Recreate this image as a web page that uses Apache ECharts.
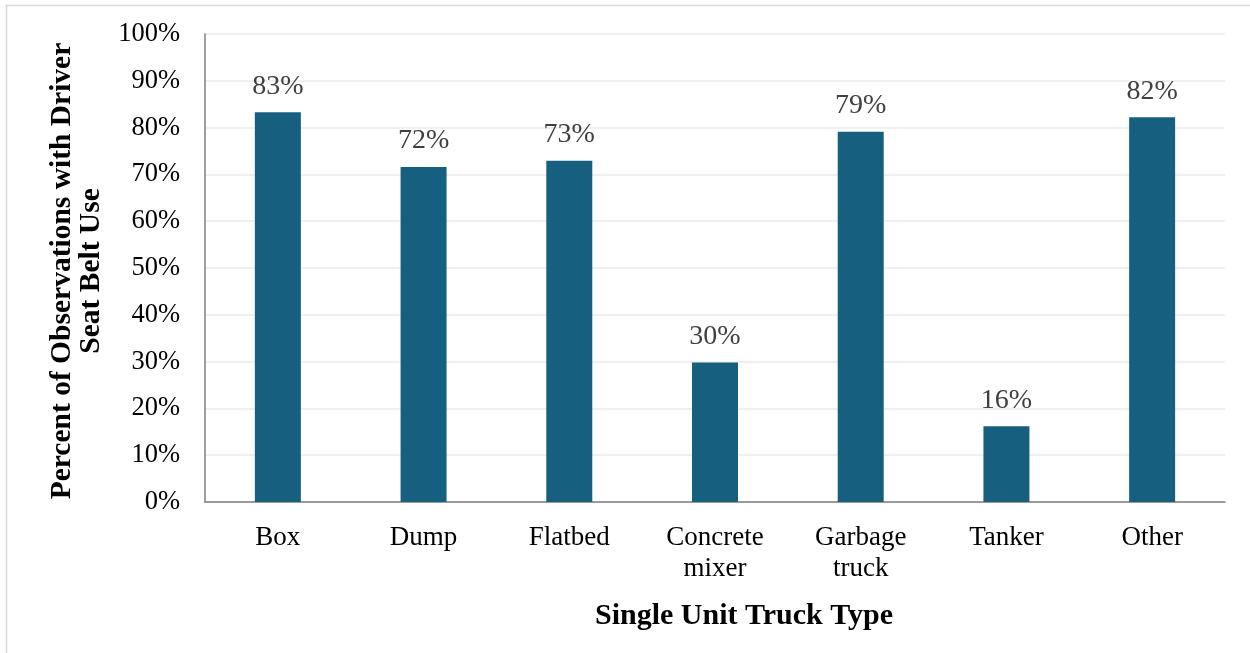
<!DOCTYPE html>
<html>
<head>
<meta charset="utf-8">
<script src="https://cdn.jsdelivr.net/npm/echarts@6/dist/echarts.min.js"></script>
<style>
  html, body { margin: 0; padding: 0; background: #fff; }
  #beltChart { width: 1250px; height: 653px; }
</style>
</head>
<body>
<div id="beltChart"></div>
<script>
var truckTypes = ['Box', 'Dump', 'Flatbed', 'Concrete\nmixer', 'Garbage\ntruck', 'Tanker', 'Other'];
var beltUse = [83.3, 71.6, 72.9, 29.8, 79.1, 16.2, 82.2];
var yTicks = { min: 0, max: 100, interval: 10 };

var serif = '"Liberation Serif", "Times New Roman", serif';

var beltChart = echarts.init(document.getElementById('beltChart'));
var beltOption = {
    animation: false,
    graphic: [{
        type: 'rect',
        shape: { x: 6.5, y: 5.5, width: 1250, height: 660 },
        style: { fill: 'none', stroke: '#d9d9d9', lineWidth: 1.5 }
    }],
    grid: {
        left: 205,
        right: 25,
        top: 34,
        bottom: 151
    },
    xAxis: {
        type: 'category',
        data: truckTypes,
        name: 'Single Unit Truck Type',
        nameLocation: 'middle',
        nameGap: 99,
        nameTextStyle: {
            fontFamily: serif, fontSize: 30, fontWeight: 'bold', color: '#000',
            padding: [0, 0, 0, 58]
        },
        axisTick: { show: false },
        axisLine: { lineStyle: { color: '#7f7f7f', width: 1.5 } },
        axisLabel: {
            margin: 20,
            fontFamily: serif,
            fontSize: 27,
            color: '#000',
            lineHeight: 31
        }
    },
    yAxis: {
        type: 'value',
        min: yTicks.min,
        max: yTicks.max,
        interval: yTicks.interval,
        name: 'Percent of Observations with Driver\nSeat Belt Use',
        nameLocation: 'middle',
        nameGap: 99,
        nameRotate: 90,
        nameTextStyle: {
            fontFamily: serif, fontSize: 29.5, fontWeight: 'bold', color: '#000', lineHeight: 29,
            padding: [0, 6, 0, 0]
        },
        axisLine: { show: true, lineStyle: { color: '#7f7f7f', width: 1.5 } },
        axisTick: { show: false },
        axisLabel: {
            margin: 25,
            fontFamily: serif,
            fontSize: 26.5,
            color: '#000',
            formatter: '{value}%'
        },
        splitLine: { lineStyle: { color: '#f0f0f0', width: 2 } }
    },
    series: [{
        type: 'bar',
        data: beltUse,
        barWidth: 46,
        itemStyle: { color: '#175f7f' },
        label: {
            show: true,
            position: 'top',
            distance: 12,
            fontFamily: serif,
            fontSize: 28,
            color: '#404040',
            formatter: function (p) { return Math.round(p.value) + '%'; }
        }
    }]
};
beltChart.setOption(beltOption);
</script>
</body>
</html>
